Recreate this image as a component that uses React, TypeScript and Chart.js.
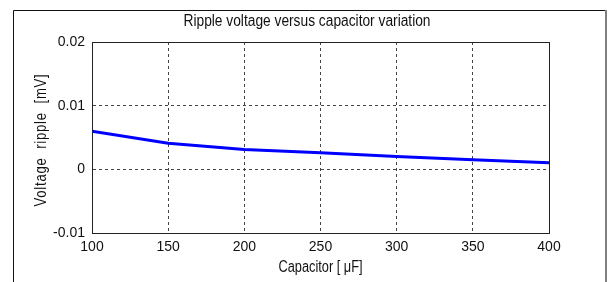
import React, { useEffect, useRef } from "react";
import { Chart, registerables } from "chart.js";

Chart.register(...registerables);

const capacitor = [100, 150, 200, 250, 300, 350, 400];
const ripple = [0.006, 0.0041, 0.0031, 0.0026, 0.002, 0.0015, 0.00105];
const yTicks = [-0.01, 0, 0.01, 0.02];
const xTicks = [100, 150, 200, 250, 300, 350, 400];
const titleText = "Ripple voltage versus capacitor variation";
const xTitle = "Capacitor [ \u03bcF]";
const yTitle = "Voltage  ripple  [mV]";

const FONT = "'Liberation Sans', Arial, sans-serif";

function squeezedText(ctx: any, text: string, x: number, y: number, sx: number, rot = 0, spacing = "0px") {
  ctx.save();
  ctx.translate(x, y);
  if (rot) ctx.rotate(rot);
  ctx.scale(sx, 1);
  ctx.letterSpacing = spacing;
  ctx.fillText(text, 0, 0);
  ctx.restore();
}

const framePlugin = {
  id: "framePlugin",
  afterDraw(chart: any) {
    const { ctx, chartArea: ca } = chart;
    ctx.save();
    // outer frame
    ctx.lineWidth = 1;
    ctx.strokeStyle = "#111";
    ctx.beginPath();
    ctx.moveTo(13.5, 282);
    ctx.lineTo(13.5, 10.5);
    ctx.lineTo(605, 10.5);
    ctx.stroke();
    ctx.strokeStyle = "#808080";
    ctx.lineWidth = 2;
    ctx.beginPath();
    ctx.moveTo(606, 10);
    ctx.lineTo(606, 282);
    ctx.stroke();
    // axes box
    ctx.lineWidth = 1;
    ctx.strokeStyle = "#222";
    ctx.strokeRect(
      Math.round(ca.left) + 0.5,
      Math.round(ca.top) + 0.5,
      Math.round(ca.right - ca.left),
      Math.round(ca.bottom - ca.top)
    );
    // texts
    ctx.fillStyle = "#111";
    ctx.font = `16px ${FONT}`;
    ctx.textAlign = "center";
    ctx.textBaseline = "middle";
    squeezedText(ctx, titleText, 307, 22, 0.86);
    squeezedText(ctx, xTitle, (ca.left + ca.right) / 2, 268, 0.8);
    squeezedText(ctx, yTitle, 42, 140, 0.82, -Math.PI / 2, "0.9px");
    ctx.restore();
  },
};

export default function App() {
  const ref = useRef<HTMLCanvasElement>(null);
  useEffect(() => {
    if (!ref.current) return;
    const chart = new Chart(ref.current, {
      type: "line",
      data: {
        datasets: [
          {
            data: capacitor.map((c, i) => ({ x: c, y: ripple[i] })),
            borderColor: "#0000ff",
            borderWidth: 3,
            pointRadius: 0,
            tension: 0,
            fill: false,
          },
        ],
      },
      options: {
        animation: false,
        responsive: false,
        devicePixelRatio: 1,
        layout: { padding: { left: 0, top: 42, right: 61, bottom: 0 } },
        plugins: {
          legend: { display: false },
          tooltip: { enabled: false },
          title: { display: false },
        },
        scales: {
          x: {
            type: "linear",
            min: 100,
            max: 400,
            afterFit: (s: any) => {
              s.height = 49;
            },
            afterBuildTicks: (s: any) => {
              s.ticks = xTicks.map((v) => ({ value: v }));
            },
            grid: { color: "#444", lineWidth: 1, drawTicks: false },
            border: { display: true, color: "#222", dash: [3, 3] },
            ticks: {
              color: "#111",
              padding: 6,
              font: { family: FONT, size: 14 },
              maxRotation: 0,
              autoSkip: false,
            },
          },
          y: {
            type: "linear",
            min: -0.01,
            max: 0.02,
            afterFit: (s: any) => {
              s.width = 92;
            },
            afterBuildTicks: (s: any) => {
              s.ticks = yTicks.map((v) => ({ value: v }));
            },
            grid: { color: "#444", lineWidth: 1, drawTicks: false },
            border: { display: true, color: "#222", dash: [3, 3] },
            ticks: {
              color: "#111",
              padding: 7,
              font: { family: FONT, size: 14 },
              callback: (v: any) => (v === 0 ? "0" : String(Number(v).toFixed(2))),
            },
          },
        },
      },
      plugins: [framePlugin],
    });
    return () => chart.destroy();
  }, []);
  return (
    <div style={{ position: "absolute", left: 0, top: 0, width: 610, height: 282, background: "#fff" }}>
      <canvas ref={ref} width={610} height={282} style={{ display: "block" }} />
    </div>
  );
}
